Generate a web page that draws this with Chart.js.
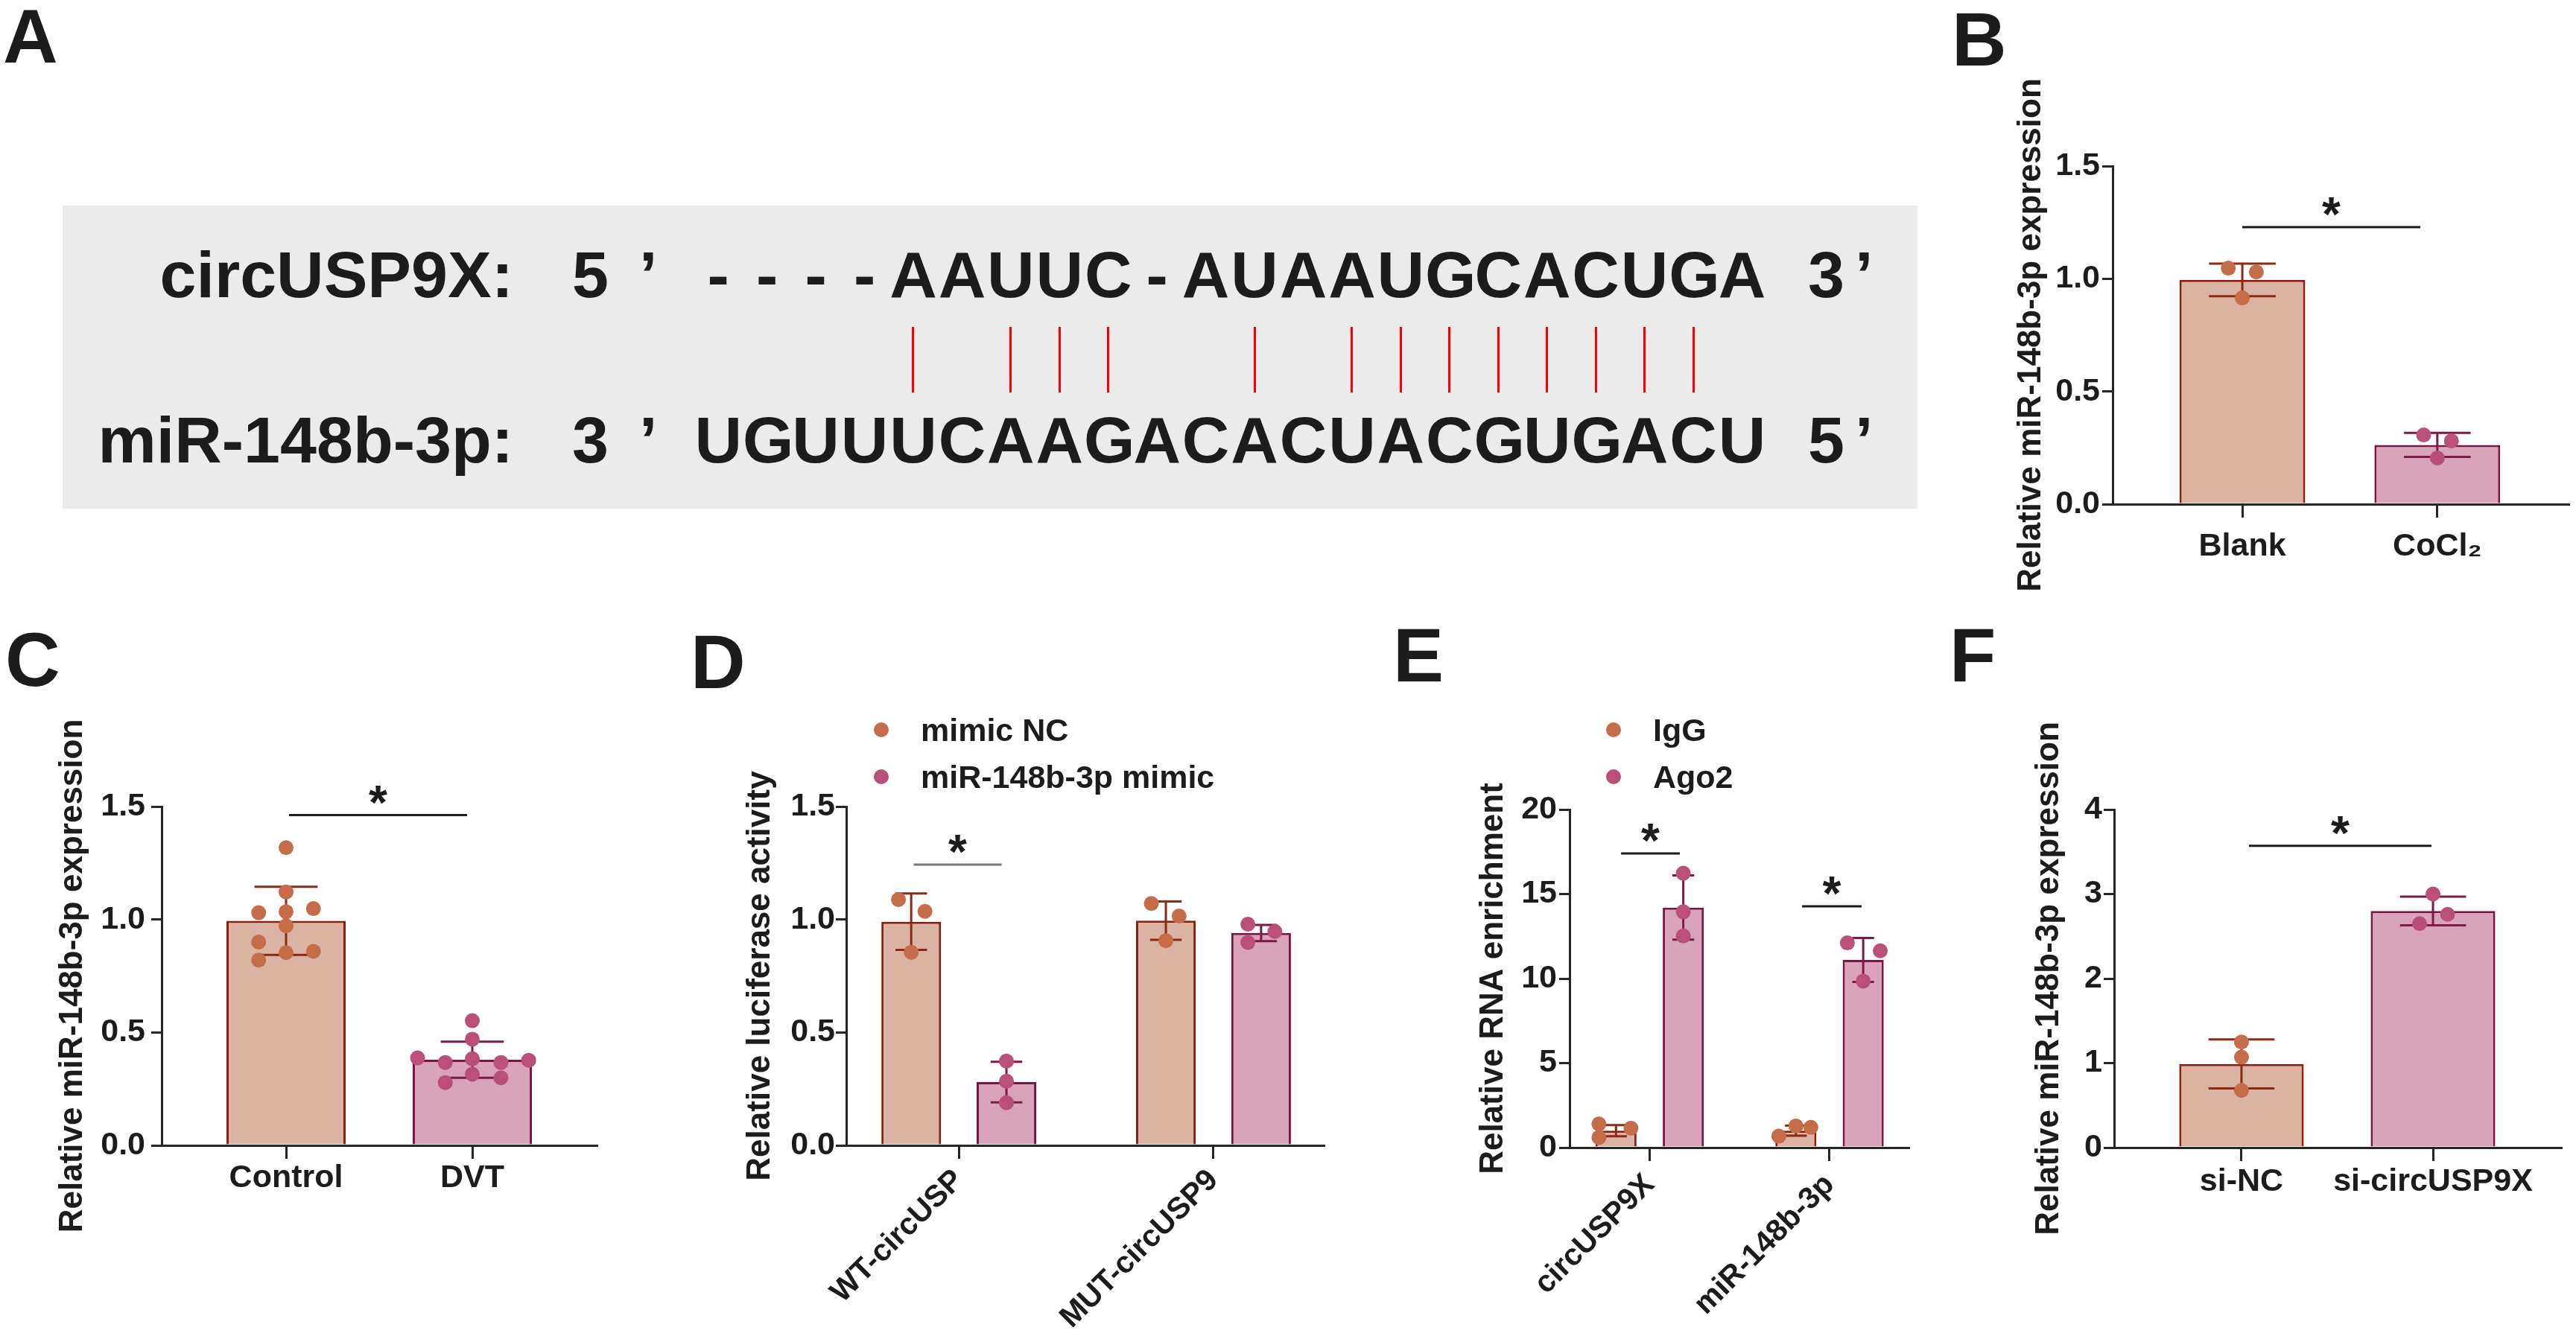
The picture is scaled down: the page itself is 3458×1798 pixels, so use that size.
<!DOCTYPE html>
<html lang="en">
<head>
<meta charset="UTF-8" />
<title>circUSP9X sponges miR-148b-3p</title>
<script src="https://cdn.jsdelivr.net/npm/chart.js@4.4.1/dist/chart.umd.min.js"></script>
<style>
  html,body{margin:0;padding:0;background:#fff}
  body{width:3458px;height:1798px;position:relative;overflow:hidden;font-family:'Liberation Sans',Arial,Helvetica,sans-serif;font-weight:bold;color:#1c1c1c}
  .abs{position:absolute;white-space:nowrap;line-height:1}
  .tag{font-size:102px}
  .seq{font-size:88px}
  .key{font-size:43px}
  .cell{position:absolute;text-align:center}
  .pair{position:absolute;width:3px;background:#ff0000}
  .dot{position:absolute;width:20px;height:20px;border-radius:50%}
  .seqbox{position:absolute;left:84px;top:276px;width:2490px;height:407px;background:#ebebeb}
  canvas{position:absolute}
</style>
</head>
<body>
<div class="seqbox"></div>
<div id="panelA"></div>

<div id="charts"></div>

<div class="abs tag" style="left:4px;top:-2px">A</div>
<div class="abs tag" style="left:2620px;top:2px">B</div>
<div class="abs tag" style="left:7px;top:835px">C</div>
<div class="abs tag" style="left:927px;top:838px">D</div>
<div class="abs tag" style="left:1870px;top:829px">E</div>
<div class="abs tag" style="left:2617px;top:829px">F</div>

<div id="keyD"></div>
<div id="keyE"></div>

<script>
// ---- panel A: binding site ----
const circSeq = '----AAUUC-AUAAUGCACUGA';
const mirSeq = 'UGUUUCAAGACACUACGUGACU';
const pairedAt = [4, 6, 7, 8, 11, 13, 14, 15, 16, 17, 18, 19, 20];

// ---- panel B ----
const bCategories = ['Blank', 'CoCl\u2082'];
const bMeans = [0.995, 0.263];
const bSD = [0.072, 0.053];
const bPoints = [[1.047, 1.03, 0.915], [0.307, 0.281, 0.205]];
const bJitter = [[-0.072, 0.072, 0], [-0.07, 0.072, 0]];
const bYTicks = ['0.0', '0.5', '1.0', '1.5'];
const bSig = [[0, 0.913, 1.229]];

// ---- panel C ----
const cCategories = ['Control', 'DVT'];
const cMeans = [0.994, 0.379];
const cSD = [0.151, 0.08];
const cPoints = [
  [1.318, 1.122, 1.030, 1.034, 1.048, 0.972, 0.900, 0.853, 0.859, 0.820],
  [0.552, 0.470, 0.387, 0.367, 0.383, 0.367, 0.377, 0.278, 0.315, 0.299]
];
const cJitter = [
  [0, 0, -0.147, 0, 0.147, 0, -0.147, 0, 0.147, -0.147],
  [0, 0, -0.294, -0.145, 0, 0.154, 0.303, -0.145, 0, 0.154]
];
const cYTicks = ['0.0', '0.5', '1.0', '1.5'];
const cSig = [[0.016, 0.972, 1.462]];

// ---- panel D ----
const dCategories = ['WT-circUSP', 'MUT-circUSP9'];
const dSeries = ['mimic NC', 'miR-148b-3p mimic'];
const dMeansNC = [0.99, 0.995];
const dMeansMimic = [0.28, 0.94];
const dSDNC = [0.125, 0.085];
const dSDMimic = [0.09, 0.036];
const dPointsNC = [[1.088, 1.036, 0.855], [1.071, 1.015, 0.906]];
const dPointsMimic = [[0.373, 0.284, 0.189], [0.979, 0.947, 0.898]];
const dJitterNC = [[-0.05, 0.054, 0], [-0.057, 0.052, 0]];
const dJitterMimic = [[0, 0, 0], [-0.052, 0.054, -0.052]];
const dYTicks = ['0.0', '0.5', '1.0', '1.5'];
const dSig = [[-0.177, 0.168, 1.243]];

// ---- panel E ----
const eCategories = ['circUSP9X', 'miR-148b-3p'];
const eSeries = ['IgG', 'Ago2'];
const eMeansIgG = [1.0, 1.0];
const eMeansAgo2 = [14.2, 11.1];
const eSDIgG = [0.33, 0.3];
const eSDAgo2 = [1.9, 1.3];
const ePointsIgG = [[1.40, 0.6, 1.15], [0.68, 1.28, 1.2]];
const ePointsAgo2 = [[16.23, 13.95, 12.52], [12.11, 11.64, 9.85]];
const eJitterIgG = [[-0.095, -0.095, 0.083], [-0.095, 0, 0.083]];
const eJitterAgo2 = [[0, 0, 0], [-0.088, 0.095, 0]];
const eYTicks = ['0', '5', '10', '15', '20'];
const eSig = [[-0.159, 0.168, 17.4], [0.847, 1.178, 14.27]];

// ---- panel F ----
const fCategories = ['si-NC', 'si-circUSP9X'];
const fMeans = [0.99, 2.8];
const fSD = [0.29, 0.17];
const fPoints = [[1.25, 1.07, 0.676], [3.0, 2.76, 2.65]];
const fJitter = [[0, 0, 0], [0, 0.076, -0.07]];
const fYTicks = ['0', '1', '2', '3', '4'];
const fSig = [[0.039, 0.992, 3.57]];

const FONT = "'Liberation Sans', Arial, Helvetica, sans-serif";
const INK = '#1c1c1c';
const AXIS = '#262626';
const BROWN = {fill: '#dbb3a3', edge: '#8c1d0f', dot: '#c46d48', err: '#8c2a14'};
const PINK = {fill: '#d9a4ba', edge: '#7c1545', dot: '#ba5079', err: '#7c1a48'};
const OFFSET = 0.187;   // half distance between paired bars (category units)
const CAP = 0.265;      // error bar cap half-width, share of bar width

Chart.defaults.font.family = FONT;
Chart.defaults.font.weight = 'bold';
Chart.defaults.color = INK;

// panel A drawn as text
(function buildA() {
  const host = document.getElementById('panelA');
  const seqLeft = 931.5, cellW = 65.44;
  const rows = [
    {label: 'circUSP9X:', end5: '5', end3: '3', seq: circSeq, top: 324.5},
    {label: 'miR-148b-3p:', end5: '3', end3: '5', seq: mirSeq, top: 547}
  ];
  rows.forEach(r => {
    const lab = document.createElement('div');
    lab.className = 'abs seq';
    lab.style.cssText = `left:0;width:689px;text-align:right;top:${r.top}px`;
    lab.textContent = r.label;
    host.appendChild(lab);
    [[r.end5, 768], ['\u2019', 858], [r.end3, 2427], ['\u2019', 2490]].forEach(([t, x]) => {
      const d = document.createElement('div');
      d.className = 'abs seq';
      d.style.cssText = `left:${x}px;top:${r.top}px`;
      d.textContent = t;
      host.appendChild(d);
    });
    [...r.seq].forEach((ch, i) => {
      const d = document.createElement('div');
      d.className = 'abs seq cell';
      d.style.cssText = `left:${seqLeft + i * cellW}px;width:${cellW}px;top:${r.top}px`;
      d.textContent = ch;
      host.appendChild(d);
    });
  });
  pairedAt.forEach(i => {
    const d = document.createElement('div');
    d.className = 'pair';
    d.style.cssText = `left:${seqLeft + cellW * (i + 0.5) - 1.5}px;top:439px;height:88px`;
    host.appendChild(d);
  });
})();

function buildKey(id, names, x, ys) {
  const host = document.getElementById(id);
  [BROWN, PINK].forEach((col, k) => {
    const dot = document.createElement('div');
    dot.className = 'dot';
    dot.style.cssText = `left:${x - 10}px;top:${ys[k] - 10}px;background:${col.dot}`;
    host.appendChild(dot);
    const t = document.createElement('div');
    t.className = 'abs key';
    t.style.cssText = `left:${x + 53}px;top:${ys[k] - 21}px`;
    t.textContent = names[k];
    host.appendChild(t);
  });
}
buildKey('keyD', dSeries, 1183, [980, 1043]);
buildKey('keyE', eSeries, 2166, [980, 1043]);

const errorBars = {
  id: 'errorBars',
  afterDatasetDraw(chart, args) {
    const ds = chart.data.datasets[args.index];
    if (!ds.errors) return;
    const ctx = chart.ctx, y = chart.scales.y;
    args.meta.data.forEach((bar, i) => {
      const m = ds.data[i].y, e = ds.errors[i];
      const top = y.getPixelForValue(m + e), bot = y.getPixelForValue(m - e);
      const half = bar.width * CAP;
      ctx.save();
      ctx.strokeStyle = ds.errColor;
      ctx.lineWidth = 3;
      ctx.beginPath();
      ctx.moveTo(bar.x, top); ctx.lineTo(bar.x, bot);
      ctx.moveTo(bar.x - half, top); ctx.lineTo(bar.x + half, top);
      ctx.moveTo(bar.x - half, bot); ctx.lineTo(bar.x + half, bot);
      ctx.stroke();
      ctx.restore();
    });
  }
};

function sigMarks(lines, color) {
  return {
    id: 'sigMarks',
    afterDatasetsDraw(chart) {
      const {ctx, scales: {x, y}} = chart;
      lines.forEach(([a, b, v]) => {
        const x1 = x.getPixelForValue(a), x2 = x.getPixelForValue(b), yy = y.getPixelForValue(v);
        ctx.save();
        ctx.strokeStyle = color;
        ctx.lineWidth = 3;
        ctx.beginPath(); ctx.moveTo(x1, yy); ctx.lineTo(x2, yy); ctx.stroke();
        ctx.fillStyle = INK;
        ctx.font = `bold 64px ${FONT}`;
        ctx.textAlign = 'center';
        ctx.textBaseline = 'alphabetic';
        ctx.fillText('*', (x1 + x2) / 2, yy + 5);
        ctx.restore();
      });
    }
  };
}

function drawPanel(p) {
  const cv = document.createElement('canvas');
  cv.width = p.box[2];
  cv.height = p.box[3];
  cv.style.left = p.box[0] + 'px';
  cv.style.top = p.box[1] + 'px';
  document.getElementById('charts').appendChild(cv);

  const datasets = [];
  p.series.forEach(s => {
    datasets.push({
      type: 'bar', order: 2, grouped: false,
      data: s.pos.map((x, i) => ({x, y: s.mean[i]})),
      errors: s.sd, errColor: s.col.err,
      backgroundColor: s.col.fill, borderColor: s.col.edge, borderWidth: 3,
      barPercentage: p.barPct, categoryPercentage: 1
    });
    datasets.push({
      type: 'scatter', order: 0, clip: false,
      data: s.pts.flatMap((arr, i) => arr.map((v, j) => ({x: s.pos[i] + s.jit[i][j], y: v}))),
      pointRadius: 10, pointHoverRadius: 10, pointBorderWidth: 0,
      pointBackgroundColor: s.col.dot
    });
  });

  const tickFont = {size: 43, weight: 'bold', family: FONT};
  const grid = len => ({display: true, offset: false, drawOnChartArea: false, drawTicks: true,
    tickLength: len, tickWidth: 3, tickColor: AXIS, color: AXIS, lineWidth: 3});

  new Chart(cv, {
    type: 'bar',
    data: {datasets},
    plugins: [errorBars, sigMarks(p.sig, p.sigColor || INK)],
    options: {
      responsive: false, animation: false, devicePixelRatio: 1, events: [],
      layout: {padding: {left: 0, top: p.padTop, right: p.padRight, bottom: 0}},
      plugins: {legend: {display: false}, tooltip: {enabled: false}},
      scales: {
        x: {
          type: 'linear', min: p.xRange[0], max: p.xRange[1], offset: false,
          afterBuildTicks: a => { a.ticks = p.cats.map((c, i) => ({value: i})); },
          afterFit: a => { a.height = p.xH; },
          ticks: {autoSkip: false, maxRotation: p.rot, minRotation: p.rot, padding: p.xPad,
            font: {size: p.rot ? 41 : 43, weight: 'bold', family: FONT}, color: INK,
            callback: v => p.cats[v]},
          grid: grid(18),
          border: {display: true, color: AXIS, width: 3}
        },
        y: {
          type: 'linear', min: 0, max: p.yMax,
          afterBuildTicks: a => { a.ticks = p.yTicks.map(t => ({value: parseFloat(t)})); },
          afterFit: a => { a.width = p.yW; },
          ticks: {padding: p.yPad, font: tickFont, color: INK,
            callback: v => p.yTicks.find(t => parseFloat(t) === v)},
          grid: grid(14),
          border: {display: true, color: AXIS, width: 3},
          title: {display: true, text: p.yTitle, color: INK, padding: 0,
            font: {size: 44, weight: 'bold', family: FONT}}
        }
      }
    }
  });
}

const single = (i, means, sd, pts, jit, col) =>
  ({pos: [i], mean: [means[i]], sd: [sd[i]], pts: [pts[i]], jit: [jit[i]], col});
const expr = 'Relative miR-148b-3p expression';

drawPanel({
  box: [2700, 60, 758, 740], padTop: 163, padRight: 7, yW: 136, xH: 123,
  xRange: [-0.665, 1.673], yMax: 1.5, yTicks: bYTicks, yTitle: expr, cats: bCategories,
  rot: 0, xPad: 13, yPad: 3, barPct: 0.645, sig: bSig,
  series: [single(0, bMeans, bSD, bPoints, bJitter, BROWN), single(1, bMeans, bSD, bPoints, bJitter, PINK)]
});

drawPanel({
  box: [71, 900, 809, 898], padTop: 183, padRight: 79, yW: 146, xH: 260,
  xRange: [-0.668, 1.668], yMax: 1.5, yTicks: cYTicks, yTitle: expr, cats: cCategories,
  rot: 0, xPad: 0, yPad: 8, barPct: 0.64, sig: cSig,
  series: [single(0, cMeans, cSD, cPoints, cJitter, BROWN), single(1, cMeans, cSD, cPoints, cJitter, PINK)]
});

drawPanel({
  box: [994, 900, 806, 898], padTop: 183, padRight: 23, yW: 142, xH: 260,
  xRange: [-0.442, 1.433], yMax: 1.5, yTicks: dYTicks, yTitle: 'Relative luciferase activity', cats: dCategories,
  rot: 45, xPad: 5, yPad: 1, barPct: 0.626, sig: dSig, sigColor: '#777777',
  series: [
    {pos: [0 - OFFSET, 1 - OFFSET], mean: dMeansNC, sd: dSDNC, pts: dPointsNC, jit: dJitterNC, col: BROWN},
    {pos: [0 + OFFSET, 1 + OFFSET], mean: dMeansMimic, sd: dSDMimic, pts: dPointsMimic, jit: dJitterMimic, col: PINK}
  ]
});

drawPanel({
  box: [1978, 900, 622, 898], padTop: 187, padRight: 38, yW: 129, xH: 257,
  xRange: [-0.445, 1.439], yMax: 20, yTicks: eYTicks, yTitle: 'Relative RNA enrichment', cats: eCategories,
  rot: 45, xPad: 8, yPad: 3, barPct: 0.61, sig: eSig,
  series: [
    {pos: [0 - OFFSET, 1 - OFFSET], mean: eMeansIgG, sd: eSDIgG, pts: ePointsIgG, jit: eJitterIgG, col: BROWN},
    {pos: [0 + OFFSET, 1 + OFFSET], mean: eMeansAgo2, sd: eSDAgo2, pts: ePointsAgo2, jit: eJitterAgo2, col: PINK}
  ]
});

drawPanel({
  box: [2724, 900, 734, 898], padTop: 187, padRight: 20, yW: 114, xH: 257,
  xRange: [-0.665, 1.669], yMax: 4, yTicks: fYTicks, yTitle: expr, cats: fCategories,
  rot: 0, xPad: 2, yPad: 2, barPct: 0.65, sig: fSig,
  series: [single(0, fMeans, fSD, fPoints, fJitter, BROWN), single(1, fMeans, fSD, fPoints, fJitter, PINK)]
});
</script>
</body>
</html>
